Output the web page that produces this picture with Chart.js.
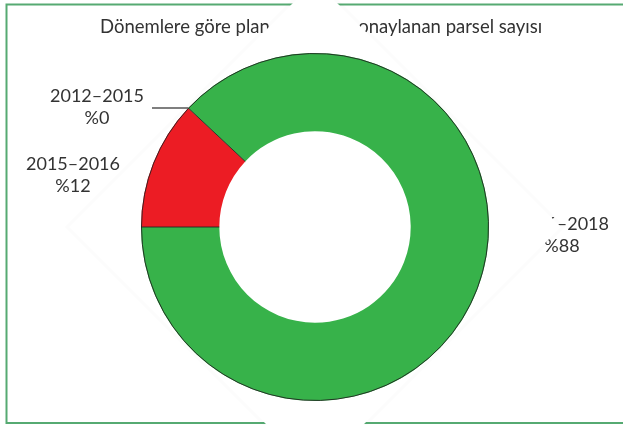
<!DOCTYPE html>
<html>
<head>
<meta charset="utf-8">
<script src="https://cdn.jsdelivr.net/npm/chart.js@4"></script>
<style>
  body { margin: 0; background: #fff; }
  canvas { display: block; }
</style>
</head>
<body>
<canvas id="grafico" width="623" height="425"></canvas>
<script>
// dilimler saat yönünde, 9 hizasından başlayarak
const donemler = ['2015–2016', '2012–2015', '2016–2018'];
const yuzdeler = [12, 0, 88];
const yuzdeEtiketleri = ['%12', '%0', '%88'];
const baslik = 'Dönemlere göre plan değişikliği onaylanan parsel sayısı';

const renkler = ['#ec1c24', '#ec1c24', '#37b24a'];
const yaziRengi = '#333333';

const grafico = document.getElementById('grafico');

// etiket konumları (metin merkezi, ilk satırın tabanı)
const etiketYeri = [
  { x: 73, y: 170 },
  { x: 97, y: 102 },
  { x: 562, y: 230 },
];

const cerceve = {
  id: 'cerceve',
  beforeDraw(chart) {
    const ctx = chart.ctx;
    ctx.save();
    ctx.fillStyle = '#fff';
    ctx.fillRect(0, 0, chart.width, chart.height);
    ctx.strokeStyle = '#56aa72';
    ctx.lineWidth = 2;
    ctx.strokeRect(6.5, 4.5, 630, 418.5);
    ctx.fillStyle = yaziRengi;
    // başlık
    ctx.font = '18.5px Lato, sans-serif';
    ctx.textAlign = 'left';
    ctx.textBaseline = 'alphabetic';
    ctx.fillText(baslik, 100, 33);
    // dilim etiketleri
    ctx.font = '18px Lato, sans-serif';
    ctx.textAlign = 'center';
    donemler.forEach((d, i) => {
      const p = etiketYeri[i];
      ctx.fillText(d, p.x, p.y);
      ctx.fillText(yuzdeEtiketleri[i], p.x, p.y + 22);
    });
    ctx.restore();
  },
  beforeDatasetsDraw(chart) {
    // döndürülmüş resmin beyaz zemini (kare, 45 derece)
    const arc = chart.getDatasetMeta(0).data[0];
    const ctx = chart.ctx;
    const h = arc.outerRadius * Math.SQRT2;
    ctx.save();
    ctx.beginPath();
    ctx.moveTo(arc.x, arc.y - h);
    ctx.lineTo(arc.x + h, arc.y);
    ctx.lineTo(arc.x, arc.y + h);
    ctx.lineTo(arc.x - h, arc.y);
    ctx.closePath();
    ctx.strokeStyle = 'rgba(0,0,0,0.012)';
    ctx.lineWidth = 6;
    ctx.stroke();
    ctx.fillStyle = '#ffffff';
    ctx.fill();
    ctx.restore();
  },
  afterDatasetsDraw(chart) {
    const meta = chart.getDatasetMeta(0);
    const ctx = chart.ctx;
    ctx.save();
    ctx.strokeStyle = 'rgba(30,30,30,0.85)';
    ctx.lineWidth = 1;
    meta.data.forEach((a) => {
      ctx.beginPath();
      ctx.arc(a.x, a.y, a.outerRadius - 0.5, a.startAngle, a.endAngle);
      ctx.stroke();
    });
    // kırmızı dilimin kenarları
    const r = meta.data[0];
    [r.startAngle, r.endAngle].forEach((t) => {
      ctx.beginPath();
      ctx.moveTo(r.x + r.innerRadius * Math.cos(t), r.y + r.innerRadius * Math.sin(t));
      ctx.lineTo(r.x + r.outerRadius * Math.cos(t), r.y + r.outerRadius * Math.sin(t));
      ctx.stroke();
    });
    // %0 dilimi için çizgi
    const z = meta.data[1];
    const px = z.x + z.outerRadius * Math.cos(z.startAngle);
    const py = z.y + z.outerRadius * Math.sin(z.startAngle);
    ctx.strokeStyle = '#555';
    ctx.lineWidth = 1.5;
    ctx.beginPath();
    ctx.moveTo(152, py);
    ctx.lineTo(px, py);
    ctx.stroke();
    ctx.restore();
  }
};

new Chart(grafico, {
  type: 'doughnut',
  data: {
    labels: donemler,
    datasets: [{
      data: yuzdeler,
      backgroundColor: renkler,
      borderWidth: 0,
    }]
  },
  options: {
    responsive: false,
    animation: false,
    rotation: 270,
    cutout: '55%',
    layout: { padding: { top: 53, bottom: 24, left: 141, right: 134 } },
    plugins: {
      legend: { display: false },
      tooltip: { enabled: false },
      title: { display: false }
    }
  },
  plugins: [cerceve]
});
</script>
</body>
</html>
